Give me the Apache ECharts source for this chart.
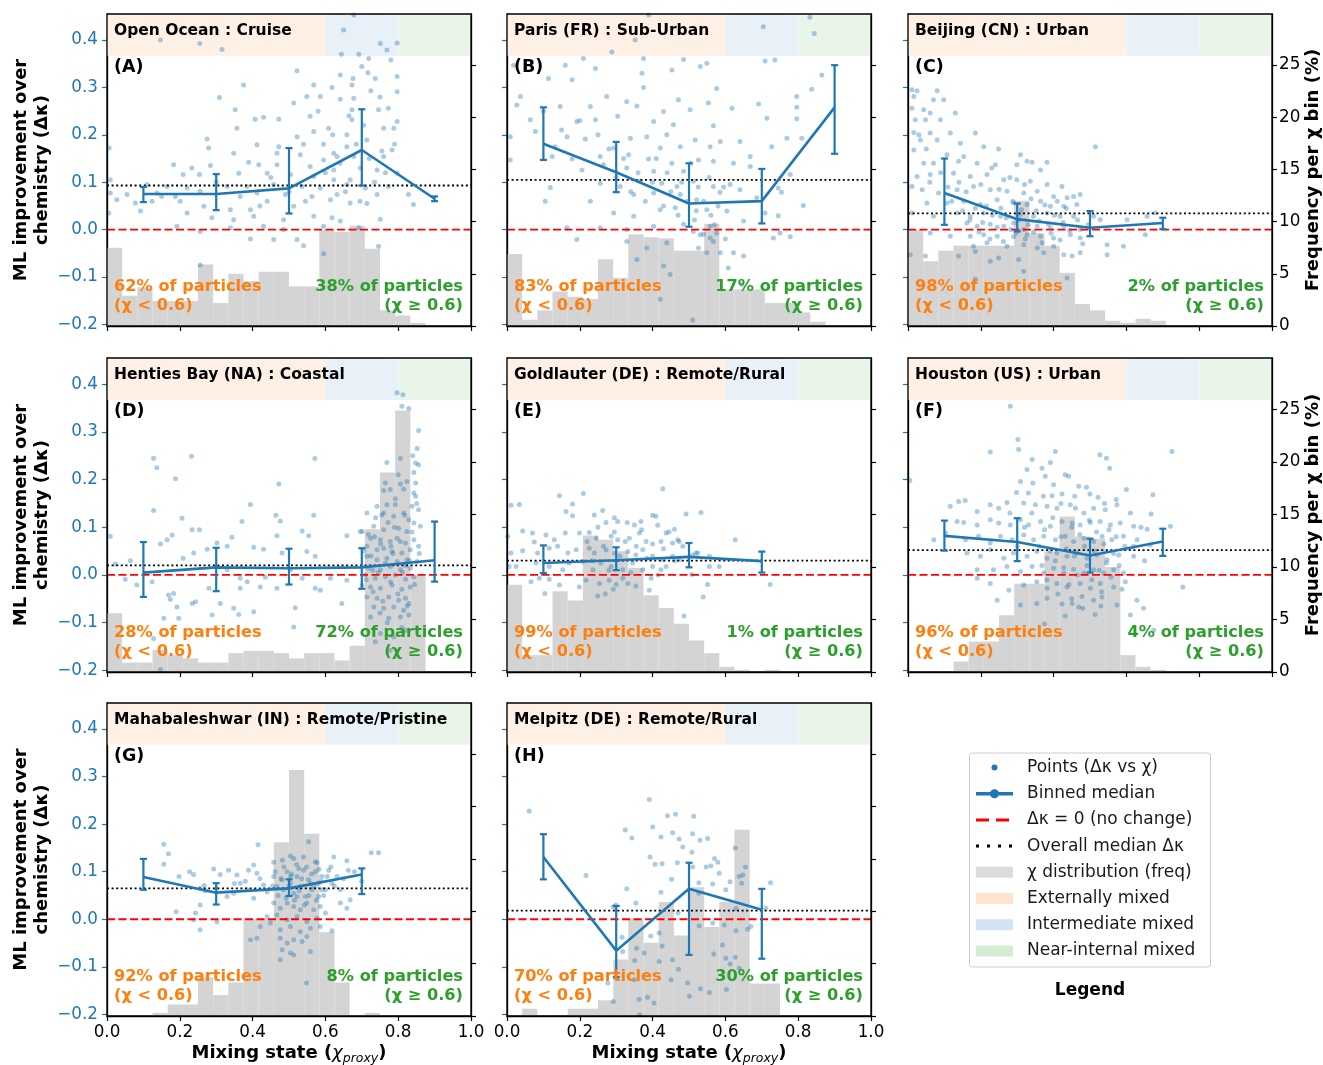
<!DOCTYPE html>
<html><head><meta charset="utf-8">
<script src="https://cdn.jsdelivr.net/npm/echarts@6/dist/echarts.min.js"></script>
<style>html,body{margin:0;padding:0;background:#fff}#c{width:1323px;height:1065px}</style>
</head><body><div id="c"></div><script>
// ---------------- DATA ----------------
const siteNames = ['Open Ocean : Cruise','Paris (FR) : Sub-Urban','Beijing (CN) : Urban','Henties Bay (NA) : Coastal','Goldlauter (DE) : Remote/Rural','Houston (US) : Urban','Mahabaleshwar (IN) : Remote/Pristine','Melpitz (DE) : Remote/Rural'];
const panelLetters = ['(A)','(B)','(C)','(D)','(E)','(F)','(G)','(H)'];
const pctLow = [62,83,98,28,99,96,92,70];
const pctHigh = [38,17,2,72,1,4,8,30];
const overallMedian = [0.093,0.105,0.034,0.020,0.030,0.052,0.065,0.018];
const binCenters = [0.1,0.3,0.5,0.7,0.9];
const xTicks = [0,0.2,0.4,0.6,0.8,1.0];
const yTicks = [-0.2,-0.1,0,0.1,0.2,0.3,0.4];
const freqTicks = [0,5,10,15,20,25];
const bandEdges = [0,0.6,0.8,1.0];

const medA=[0.075,0.075,0.087,0.168,0.065], loA=[0.058,0.041,0.034,0.093,0.060], hiA=[0.090,0.117,0.172,0.254,0.070];
const medB=[0.181,0.121,0.055,0.060,0.258], loB=[0.147,0.079,0.006,0.013,0.160], hiB=[0.258,0.185,0.140,0.128,0.347];
const medC=[0.077,0.022,0.004,0.014], loC=[0.010,-0.004,-0.014,0.001], hiC=[0.150,0.055,0.039,0.025];
const medD=[0.005,0.016,0.014,0.016,0.031], loD=[-0.046,-0.034,-0.020,-0.029,-0.014], hiD=[0.069,0.057,0.055,0.056,0.112];
const medE=[0.025,0.031,0.038,0.029], loE=[0.004,0.010,0.016,0.005], hiE=[0.062,0.058,0.067,0.049];
const medF=[0.082,0.069,0.041,0.070], loF=[0.051,0.029,0.005,0.040], hiF=[0.114,0.119,0.076,0.097];
const medG=[0.089,0.056,0.065,0.094], loG=[0.062,0.031,0.049,0.053], hiG=[0.127,0.076,0.084,0.107];
const medH=[0.131,-0.066,0.064,0.020], loH=[0.084,-0.122,-0.075,-0.083], hiH=[0.179,0.028,0.119,0.064];

// histogram frequency (%) per chi bin of width 1/24 starting at 0
const histA=[7.5,2.9,3.7,2.4,2.4,2.4,5.9,2.2,5.0,4.3,5.2,5.2,3.8,3.8,9.2,9.0,9.6,7.4,1.5,1.0,0.3];
const histB=[6.9,0.6,1.5,3.3,2.8,2.6,6.4,4.6,8.8,8.5,8.4,7.2,7.2,9.8,3.5,3.5,3.5,2.2,2.2,1.3,0.4];
const histC=[9.2,6.2,7.2,7.7,7.7,7.7,7.7,12.0,8.9,7.7,5.1,2.1,1.5,0.5,0.3,0.7,0.5];
const histD=[5.6,0.9,0.9,2.1,1.6,1.3,0.9,0.9,1.8,2.0,2.0,1.8,1.3,1.8,1.8,1.1,2.5,13.6,19.0,24.9,9.2];
const histE=[8.3,1.6,1.6,7.7,6.8,13.0,12.6,11.5,9.9,7.3,6.1,4.6,3.0,1.8,0.5,0.2,0,0.2];
const histF=[0,0,0,1.0,2.9,2.9,5.4,8.4,8.4,11.5,14.8,12.9,12.7,10.0,1.6,0.5,0.2];
const histG=[0,0,0,0.3,1.1,1.1,3.7,2.0,3.2,9.3,9.3,16.6,23.5,17.4,8.0,3.2,0.1,0.3];
const histH=[0,0.7,0,0,0.7,0.7,1.5,5.4,9.3,7.0,10.9,7.7,12.3,8.5,10.9,17.8,3.1,3.1];

const ptsA=[[0.678,0.453],[0.650,0.421],[0.147,0.400],[0.255,0.393],[0.316,0.380],[0.751,0.393],[0.797,0.394],[0.769,0.379],[0.644,0.370],[0.692,0.370],[0.719,0.361],[0.780,0.358],[0.700,0.344],[0.717,0.331],[0.522,0.335],[0.641,0.326],[0.676,0.319],[0.737,0.319],[0.797,0.323],[0.375,0.305],[0.568,0.305],[0.618,0.300],[0.673,0.305],[0.725,0.293],[0.797,0.291],[0.549,0.281],[0.586,0.281],[0.641,0.275],[0.309,0.279],[0.678,0.277],[0.513,0.267],[0.746,0.253],[0.773,0.256],[0.673,0.253],[0.352,0.253],[0.430,0.237],[0.407,0.233],[0.472,0.233],[0.558,0.239],[0.797,0.228],[0.673,0.232],[0.609,0.214],[0.357,0.214],[0.760,0.214],[0.788,0.214],[0.568,0.207],[0.659,0.200],[0.522,0.196],[0.275,0.191],[0.714,0.189],[0.412,0.179],[0.472,0.175],[0.595,0.180],[0.783,0.168],[0.279,0.172],[0.467,0.161],[0.348,0.161],[0.659,0.175],[0.623,0.161],[0.531,0.158],[0.755,0.166],[0.678,0.154],[0.389,0.142],[0.595,0.147],[0.632,0.154],[0.760,0.154],[0.183,0.137],[0.284,0.135],[0.417,0.137],[0.467,0.137],[0.558,0.133],[0.623,0.126],[0.696,0.130],[0.742,0.126],[0.233,0.130],[0.209,0.116],[0.254,0.116],[0.362,0.119],[0.440,0.119],[0.504,0.116],[0.568,0.112],[0.668,0.105],[0.623,0.105],[0.797,0.119],[0.110,0.095],[0.165,0.091],[0.220,0.088],[0.330,0.091],[0.385,0.091],[0.458,0.095],[0.536,0.091],[0.586,0.088],[0.659,0.095],[0.710,0.088],[0.773,0.091],[0.009,0.077],[0.055,0.074],[0.137,0.077],[0.188,0.070],[0.256,0.081],[0.366,0.070],[0.412,0.077],[0.490,0.074],[0.563,0.070],[0.614,0.063],[0.632,0.074],[0.742,0.074],[0.828,0.074],[0.027,0.063],[0.078,0.056],[0.124,0.060],[0.201,0.060],[0.266,0.049],[0.339,0.042],[0.394,0.042],[0.440,0.060],[0.513,0.049],[0.545,0.060],[0.668,0.056],[0.714,0.055],[0.842,0.053],[0.005,0.035],[0.092,0.039],[0.220,0.035],[0.288,0.025],[0.348,0.021],[0.403,0.028],[0.485,0.021],[0.568,0.028],[0.618,0.025],[0.641,0.018],[0.751,0.022],[0.192,0.007],[0.256,-0.004],[0.339,0.004],[0.430,0.007],[0.485,0.000],[0.595,0.007],[0.692,0.004],[0.394,-0.020],[0.458,-0.021],[0.522,-0.021],[0.540,-0.034],[0.595,-0.051],[0.746,-0.035],[0.256,-0.075],[0.009,0.105],[0.006,0.172],
[0.600,0.120],[0.620,0.200],[0.640,0.140],[0.655,0.080],[0.665,0.240],[0.685,0.180],[0.695,0.060],[0.705,0.220],[0.720,0.150],[0.735,0.100],[0.750,0.280],[0.765,0.120],[0.790,0.180],[0.580,0.250],[0.540,0.180],[0.500,0.080],[0.450,0.110],[0.420,0.050],[0.300,0.100],[0.150,0.070]];
const ptsB=[[0.389,0.453],[0.704,0.428],[0.832,0.448],[0.844,0.414],[0.352,0.400],[0.288,0.375],[0.709,0.356],[0.736,0.358],[0.485,0.359],[0.375,0.361],[0.210,0.361],[0.549,0.351],[0.018,0.347],[0.160,0.347],[0.114,0.319],[0.179,0.316],[0.243,0.340],[0.371,0.330],[0.453,0.337],[0.531,0.344],[0.865,0.326],[0.576,0.298],[0.375,0.300],[0.037,0.281],[0.274,0.281],[0.329,0.270],[0.471,0.274],[0.553,0.267],[0.796,0.281],[0.837,0.296],[0.027,0.263],[0.146,0.260],[0.229,0.260],[0.357,0.261],[0.430,0.249],[0.503,0.253],[0.618,0.256],[0.691,0.265],[0.796,0.258],[0.064,0.232],[0.192,0.228],[0.243,0.232],[0.304,0.239],[0.403,0.228],[0.457,0.221],[0.567,0.219],[0.714,0.235],[0.796,0.234],[0.009,0.196],[0.078,0.207],[0.165,0.196],[0.215,0.191],[0.339,0.193],[0.384,0.196],[0.439,0.200],[0.517,0.189],[0.586,0.186],[0.640,0.186],[0.769,0.193],[0.810,0.193],[0.727,0.175],[0.132,0.175],[0.293,0.172],[0.421,0.172],[0.476,0.175],[0.558,0.175],[0.124,0.154],[0.179,0.149],[0.256,0.154],[0.334,0.158],[0.389,0.149],[0.453,0.140],[0.526,0.147],[0.567,0.144],[0.668,0.154],[0.009,0.147],[0.206,0.126],[0.265,0.137],[0.329,0.130],[0.403,0.123],[0.485,0.123],[0.622,0.140],[0.668,0.133],[0.778,0.116],[0.256,0.098],[0.311,0.091],[0.366,0.102],[0.425,0.098],[0.467,0.091],[0.512,0.102],[0.567,0.091],[0.613,0.095],[0.745,0.088],[0.119,0.089],[0.105,0.060],[0.229,0.060],[0.348,0.074],[0.403,0.077],[0.476,0.074],[0.521,0.063],[0.585,0.079],[0.640,0.084],[0.686,0.067],[0.754,0.079],[0.814,0.051],[0.293,0.035],[0.348,0.028],[0.421,0.042],[0.462,0.046],[0.549,0.042],[0.604,0.039],[0.650,0.018],[0.709,0.035],[0.745,0.029],[0.165,0.004],[0.256,0.004],[0.329,0.000],[0.403,0.007],[0.485,0.011],[0.512,-0.004],[0.531,-0.011],[0.558,0.007],[0.576,-0.007],[0.567,-0.025],[0.750,-0.007],[0.778,-0.015],[0.192,-0.021],[0.329,-0.025],[0.384,-0.039],[0.439,-0.028],[0.526,-0.039],[0.549,-0.049],[0.586,-0.049],[0.622,-0.049],[0.650,-0.056],[0.357,-0.063],[0.430,-0.077],[0.448,-0.095],[0.608,-0.081],[0.645,-0.116],[0.421,-0.147],[0.510,-0.191],[0.732,-0.018],[0.558,-0.018],
[0.300,0.110],[0.320,0.150],[0.340,0.080],[0.360,0.120],[0.380,0.060],[0.400,0.100],[0.410,0.150],[0.430,0.050],[0.440,0.120],[0.450,0.080],[0.470,0.030],[0.480,0.100],[0.495,0.060],[0.505,0.140],[0.515,0.020],[0.525,0.090],[0.540,0.060],[0.555,0.110],[0.570,0.010],[0.580,0.050],[0.595,0.090],[0.540,-0.010],[0.560,0.030],[0.520,0.040],[0.600,-0.020],[0.280,0.170],[0.250,0.200],[0.200,0.230],[0.150,0.210],[0.100,0.250]];
const ptsC=[[0.011,0.295],[0.025,0.293],[0.080,0.293],[0.016,0.281],[0.043,0.253],[0.011,0.256],[0.070,0.274],[0.098,0.274],[0.020,0.232],[0.048,0.232],[0.089,0.232],[0.130,0.246],[0.061,0.246],[0.016,0.205],[0.061,0.204],[0.116,0.204],[0.185,0.204],[0.034,0.189],[0.080,0.189],[0.144,0.182],[0.208,0.175],[0.249,0.170],[0.016,0.168],[0.107,0.158],[0.153,0.154],[0.309,0.158],[0.327,0.144],[0.341,0.142],[0.382,0.142],[0.515,0.175],[0.043,0.140],[0.070,0.140],[0.139,0.144],[0.190,0.140],[0.240,0.137],[0.299,0.137],[0.364,0.126],[0.025,0.112],[0.061,0.116],[0.125,0.119],[0.171,0.112],[0.217,0.116],[0.263,0.105],[0.299,0.105],[0.336,0.102],[0.382,0.095],[0.423,0.091],[0.011,0.091],[0.039,0.084],[0.084,0.077],[0.135,0.084],[0.180,0.091],[0.226,0.084],[0.272,0.081],[0.318,0.077],[0.355,0.081],[0.400,0.070],[0.437,0.067],[0.473,0.074],[0.052,0.056],[0.107,0.056],[0.153,0.060],[0.199,0.053],[0.245,0.063],[0.290,0.056],[0.327,0.053],[0.364,0.060],[0.391,0.049],[0.428,0.049],[0.464,0.053],[0.011,0.035],[0.070,0.028],[0.135,0.035],[0.171,0.028],[0.208,0.035],[0.254,0.028],[0.309,0.032],[0.345,0.028],[0.382,0.035],[0.418,0.028],[0.455,0.028],[0.510,0.028],[0.528,0.021],[0.657,0.028],[0.679,0.035],[0.602,0.021],[0.162,0.014],[0.190,0.007],[0.226,0.011],[0.263,0.007],[0.290,0.014],[0.318,0.000],[0.355,0.007],[0.391,0.004],[0.428,0.007],[0.473,0.000],[0.061,-0.007],[0.116,-0.014],[0.171,-0.014],[0.208,-0.011],[0.245,-0.014],[0.290,-0.015],[0.327,-0.011],[0.364,-0.014],[0.400,-0.018],[0.446,-0.011],[0.473,-0.018],[0.180,-0.035],[0.217,-0.028],[0.272,-0.035],[0.318,-0.032],[0.355,-0.039],[0.400,-0.035],[0.428,-0.053],[0.451,-0.056],[0.473,-0.049],[0.547,-0.032],[0.592,-0.035],[0.547,-0.053],[0.652,-0.011],[0.139,-0.056],[0.185,-0.046],[0.226,-0.067],[0.249,-0.060],[0.304,-0.063],[0.318,-0.088],[0.373,-0.049],[0.006,-0.053],[0.048,-0.056],[0.185,-0.105],[0.437,-0.102],
[0.150,0.040],[0.170,0.020],[0.185,0.045],[0.195,-0.005],[0.205,0.015],[0.215,0.050],[0.225,-0.020],[0.232,0.030],[0.245,0.005],[0.255,0.045],[0.262,-0.025],[0.270,0.025],[0.282,0.000],[0.288,0.060],[0.297,-0.008],[0.305,0.020],[0.312,0.042],[0.322,-0.020],[0.330,0.010],[0.338,0.065],[0.345,-0.005],[0.352,0.040],[0.360,0.018],[0.368,-0.028],[0.376,0.052],[0.385,0.012],[0.393,-0.008],[0.402,0.030],[0.410,0.060],[0.418,-0.022],[0.426,0.015],[0.435,0.045],[0.444,-0.002],[0.455,0.070],[0.466,0.020],[0.480,-0.030],[0.495,0.010],[0.030,0.200],[0.050,0.170],[0.090,0.120],[0.110,0.090],[0.060,0.100],[0.120,0.060],[0.140,0.100],[0.160,0.080],[0.200,0.095],[0.250,0.085],[0.280,0.110],[0.320,0.095],[0.230,0.130]];
const ptsD=[[0.128,0.245],[0.137,0.225],[0.232,0.249],[0.188,0.202],[0.472,0.191],[0.571,0.244],[0.568,0.125],[0.394,0.148],[0.234,0.095],[0.254,0.095],[0.206,0.119],[0.128,0.135],[0.464,0.125],[0.476,0.113],[0.371,0.112],[0.536,0.092],[0.554,0.082],[0.467,0.082],[0.343,0.079],[0.179,0.084],[0.165,0.074],[0.147,0.065],[0.209,0.035],[0.238,0.046],[0.275,0.054],[0.302,0.067],[0.330,0.060],[0.403,0.058],[0.430,0.054],[0.481,0.046],[0.549,0.049],[0.572,0.039],[0.009,0.081],[0.023,0.023],[0.064,0.030],[0.082,-0.021],[0.050,-0.009],[0.124,-0.014],[0.169,-0.042],[0.183,-0.039],[0.192,-0.067],[0.174,-0.051],[0.156,-0.091],[0.197,-0.091],[0.234,-0.060],[0.243,-0.056],[0.280,-0.028],[0.289,-0.084],[0.311,-0.060],[0.348,-0.070],[0.362,-0.083],[0.366,-0.028],[0.385,-0.014],[0.403,-0.077],[0.421,-0.025],[0.435,-0.005],[0.467,-0.028],[0.517,-0.069],[0.513,-0.109],[0.536,-0.007],[0.572,-0.028],[0.586,-0.032],[0.614,-0.007],[0.659,-0.011],[0.645,-0.060],[0.128,-0.133],[0.147,-0.198],[0.366,-0.007],[0.330,0.011],[0.504,0.011],[0.659,0.082],[0.696,0.091],[0.701,-0.021],
[0.797,0.382],[0.813,0.378],[0.810,0.354],[0.829,0.349],[0.856,0.303],[0.852,0.265],[0.848,0.235],[0.856,0.231],[0.769,0.236],[0.806,0.244],[0.843,0.215],[0.765,0.193],[0.806,0.191],[0.824,0.196],[0.848,0.193],[0.843,0.172],[0.760,0.177],[0.778,0.179],[0.848,0.165],[0.742,0.144],[0.769,0.147],[0.792,0.148],[0.815,0.130],[0.838,0.144],[0.856,0.137],[0.714,0.130],[0.755,0.126],[0.788,0.123],[0.829,0.116],[0.843,0.109],[0.861,0.102],[0.733,0.102],[0.760,0.095],[0.801,0.098],[0.824,0.091],[0.701,0.091],[0.724,0.077],[0.751,0.074],[0.778,0.070],[0.797,0.077],[0.820,0.067],[0.843,0.074],[0.714,0.060],[0.742,0.053],[0.760,0.056],[0.783,0.049],[0.810,0.046],[0.833,0.053],[0.856,0.060],[0.714,0.039],[0.742,0.032],[0.769,0.035],[0.797,0.028],[0.824,0.032],[0.852,0.028],[0.719,0.014],[0.751,0.011],[0.778,0.018],[0.806,0.011],[0.833,0.014],[0.710,0.000],[0.737,-0.007],[0.765,-0.004],[0.792,0.000],[0.820,-0.009],[0.843,-0.004],[0.724,-0.025],[0.751,-0.028],[0.783,-0.021],[0.810,-0.030],[0.833,-0.025],[0.714,-0.046],[0.742,-0.049],[0.774,-0.046],[0.801,-0.053],[0.820,-0.049],[0.829,-0.060],[0.733,-0.067],[0.760,-0.070],[0.788,-0.067],[0.815,-0.074],[0.829,-0.084],[0.724,-0.088],[0.774,-0.091],[0.806,-0.088],[0.751,-0.123],[0.788,-0.130],[0.820,-0.116],[0.737,-0.140],[0.778,-0.158],
[0.705,0.050],[0.712,-0.010],[0.718,0.085],[0.725,0.040],[0.731,-0.035],[0.738,0.120],[0.745,0.005],[0.752,0.065],[0.758,-0.055],[0.765,0.025],[0.772,0.110],[0.779,-0.015],[0.786,0.045],[0.792,0.160],[0.799,-0.040],[0.806,0.070],[0.812,0.005],[0.818,0.125],[0.825,-0.065],[0.831,0.030],[0.838,0.090],[0.845,-0.020],[0.851,0.150],[0.858,0.045],[0.735,0.080],[0.760,0.130],[0.790,0.100],[0.815,0.180],[0.840,0.250],[0.800,0.210],[0.780,0.060],[0.770,-0.100],[0.810,-0.110],[0.750,-0.080],[0.820,0.020],[0.730,0.010]];
const ptsE=[[0.428,0.181],[0.210,0.171],[0.144,0.166],[0.180,0.149],[0.034,0.148],[0.011,0.146],[0.180,0.124],[0.162,0.133],[0.240,0.126],[0.263,0.135],[0.295,0.120],[0.304,0.112],[0.272,0.110],[0.400,0.125],[0.409,0.123],[0.492,0.128],[0.533,0.131],[0.350,0.105],[0.368,0.112],[0.414,0.104],[0.460,0.096],[0.473,0.070],[0.627,0.074],[0.043,0.092],[0.070,0.088],[0.075,0.069],[0.107,0.084],[0.130,0.074],[0.160,0.088],[0.199,0.088],[0.226,0.089],[0.245,0.077],[0.286,0.081],[0.304,0.074],[0.336,0.077],[0.364,0.088],[0.382,0.070],[0.423,0.070],[0.437,0.088],[0.455,0.067],[0.469,0.074],[0.483,0.060],[0.519,0.046],[0.556,0.039],[0.583,0.018],[0.043,0.051],[0.011,0.046],[0.084,0.046],[0.116,0.056],[0.139,0.060],[0.167,0.046],[0.190,0.053],[0.226,0.056],[0.240,0.046],[0.272,0.053],[0.295,0.046],[0.332,0.049],[0.354,0.042],[0.373,0.053],[0.400,0.039],[0.428,0.032],[0.455,0.039],[0.473,0.032],[0.025,0.018],[0.080,0.025],[0.116,0.018],[0.153,0.011],[0.171,0.025],[0.208,0.028],[0.236,0.011],[0.258,0.025],[0.286,0.018],[0.318,0.011],[0.345,0.025],[0.373,0.011],[0.400,0.018],[0.423,0.011],[0.437,0.018],[0.507,0.001],[0.556,0.018],[0.066,-0.014],[0.089,-0.007],[0.116,-0.009],[0.144,-0.021],[0.199,-0.025],[0.217,-0.011],[0.254,-0.018],[0.281,-0.011],[0.318,-0.007],[0.332,-0.018],[0.354,-0.023],[0.396,-0.007],[0.391,-0.032],[0.249,-0.044],[0.292,-0.030],[0.104,-0.039],[0.551,-0.020],[0.539,-0.046],[0.723,-0.020],[0.486,-0.086],[0.006,0.018],[0.002,0.081],[0.510,0.042],[0.524,0.046],
[0.220,0.070],[0.235,0.030],[0.250,0.100],[0.265,0.060],[0.280,0.010],[0.295,0.090],[0.310,0.040],[0.325,0.070],[0.340,0.005],[0.355,0.060],[0.370,0.095],[0.385,0.035],[0.400,0.065],[0.415,0.000],[0.430,0.055],[0.445,0.090],[0.460,0.030],[0.300,-0.020],[0.330,0.110],[0.270,-0.040]];
const ptsF=[[0.281,0.354],[0.302,0.284],[0.304,0.263],[0.226,0.258],[0.405,0.259],[0.725,0.259],[0.527,0.252],[0.545,0.245],[0.341,0.242],[0.391,0.236],[0.554,0.224],[0.368,0.224],[0.327,0.221],[0.432,0.210],[0.441,0.207],[0.005,0.198],[0.309,0.196],[0.343,0.193],[0.377,0.207],[0.400,0.189],[0.469,0.186],[0.490,0.184],[0.600,0.179],[0.298,0.173],[0.331,0.172],[0.372,0.165],[0.396,0.166],[0.423,0.170],[0.458,0.165],[0.522,0.163],[0.572,0.158],[0.673,0.168],[0.116,0.144],[0.139,0.154],[0.157,0.156],[0.190,0.133],[0.226,0.147],[0.249,0.140],[0.272,0.152],[0.318,0.151],[0.350,0.147],[0.382,0.144],[0.409,0.140],[0.446,0.147],[0.483,0.130],[0.510,0.140],[0.542,0.137],[0.574,0.147],[0.611,0.130],[0.668,0.128],[0.135,0.112],[0.153,0.110],[0.190,0.105],[0.226,0.116],[0.249,0.109],[0.281,0.105],[0.309,0.116],[0.331,0.105],[0.364,0.112],[0.391,0.102],[0.423,0.112],[0.451,0.109],[0.473,0.105],[0.501,0.110],[0.528,0.112],[0.556,0.105],[0.583,0.109],[0.620,0.102],[0.657,0.096],[0.721,0.102],[0.071,0.074],[0.103,0.088],[0.158,0.074],[0.194,0.081],[0.226,0.067],[0.254,0.081],[0.286,0.074],[0.318,0.084],[0.345,0.074],[0.373,0.081],[0.405,0.074],[0.432,0.081],[0.455,0.070],[0.483,0.077],[0.510,0.070],[0.533,0.081],[0.560,0.074],[0.592,0.081],[0.629,0.074],[0.665,0.063],[0.162,0.046],[0.199,0.039],[0.226,0.053],[0.263,0.035],[0.290,0.046],[0.327,0.039],[0.354,0.049],[0.382,0.035],[0.409,0.046],[0.437,0.039],[0.464,0.046],[0.492,0.035],[0.519,0.042],[0.547,0.032],[0.579,0.042],[0.620,0.039],[0.190,0.011],[0.235,0.011],[0.272,0.018],[0.309,0.007],[0.341,0.018],[0.373,0.004],[0.400,0.014],[0.428,0.004],[0.455,0.012],[0.483,0.004],[0.510,0.011],[0.538,0.004],[0.565,0.011],[0.592,0.004],[0.190,-0.007],[0.226,-0.018],[0.277,-0.032],[0.318,-0.021],[0.354,-0.014],[0.382,-0.028],[0.409,-0.018],[0.437,-0.025],[0.473,-0.018],[0.501,-0.028],[0.528,-0.018],[0.565,-0.025],[0.597,-0.014],[0.245,-0.053],[0.309,-0.063],[0.354,-0.060],[0.382,-0.049],[0.423,-0.061],[0.451,-0.060],[0.469,-0.067],[0.510,-0.053],[0.533,-0.046],[0.574,-0.063],[0.611,-0.084],[0.432,-0.086],[0.514,-0.083],[0.647,-0.070],[0.755,-0.025],[0.375,-0.103],[0.675,-0.116],[0.629,-0.053],
[0.360,0.060],[0.368,0.020],[0.375,0.095],[0.382,-0.010],[0.390,0.050],[0.398,0.120],[0.405,0.030],[0.412,-0.040],[0.420,0.080],[0.428,0.015],[0.435,0.055],[0.442,-0.020],[0.450,0.100],[0.457,0.040],[0.465,0.000],[0.472,0.085],[0.478,-0.045],[0.485,0.060],[0.492,0.020],[0.498,0.115],[0.505,-0.010],[0.512,0.050],[0.518,0.090],[0.525,0.010],[0.532,-0.035],[0.538,0.065],[0.545,0.025],[0.552,0.095],[0.558,-0.005],[0.565,0.045],[0.572,0.080],[0.580,0.020],[0.588,-0.030],[0.596,0.060],[0.340,0.130],[0.320,0.100],[0.300,0.060],[0.280,0.130],[0.420,0.150],[0.460,0.140],[0.500,0.170],[0.540,0.150],[0.620,0.060],[0.640,0.100],[0.650,0.030],[0.480,-0.070],[0.530,-0.065],[0.450,-0.050]];
const ptsG=[[0.156,0.158],[0.169,0.138],[0.156,0.116],[0.415,0.157],[0.554,0.163],[0.726,0.140],[0.746,0.140],[0.198,0.090],[0.227,0.100],[0.238,0.094],[0.255,0.065],[0.267,0.071],[0.293,0.106],[0.311,0.094],[0.334,0.103],[0.357,0.093],[0.389,0.103],[0.403,0.114],[0.412,0.097],[0.458,0.120],[0.482,0.124],[0.504,0.133],[0.513,0.128],[0.540,0.131],[0.577,0.119],[0.623,0.131],[0.659,0.123],[0.256,0.030],[0.243,0.013],[0.238,-0.001],[0.256,-0.022],[0.190,0.016],[0.302,-0.005],[0.366,0.076],[0.385,0.062],[0.403,0.044],[0.348,0.055],[0.330,0.048],[0.430,0.072],[0.440,0.058],[0.458,0.090],[0.467,0.069],[0.481,0.083],[0.495,0.100],[0.504,0.076],[0.513,0.055],[0.522,0.090],[0.531,0.069],[0.540,0.103],[0.545,0.048],[0.554,0.083],[0.563,0.062],[0.572,0.100],[0.581,0.076],[0.590,0.090],[0.600,0.062],[0.609,0.103],[0.618,0.076],[0.632,0.090],[0.641,0.062],[0.663,0.103],[0.668,0.041],[0.659,0.023],[0.641,0.034],[0.458,0.034],[0.476,0.023],[0.495,0.034],[0.513,0.027],[0.531,0.020],[0.549,0.034],[0.568,0.020],[0.586,0.027],[0.440,0.006],[0.467,0.009],[0.495,-0.001],[0.522,0.006],[0.549,-0.005],[0.577,0.002],[0.421,-0.015],[0.449,-0.008],[0.476,-0.022],[0.504,-0.015],[0.531,-0.026],[0.559,-0.019],[0.586,-0.015],[0.394,-0.043],[0.412,-0.040],[0.476,-0.040],[0.495,-0.050],[0.513,-0.043],[0.536,-0.047],[0.549,-0.036],[0.481,-0.064],[0.504,-0.071],[0.513,-0.075],[0.559,-0.068],[0.476,-0.085],[0.548,-0.134],[0.618,-0.024],[0.600,0.013],[0.485,0.062],[0.522,0.048],[0.581,0.048],[0.559,0.076],[0.504,0.090],[0.527,0.107],[0.572,0.121],[0.590,0.062],
[0.455,0.070],[0.462,0.100],[0.470,0.050],[0.478,0.085],[0.486,0.110],[0.492,0.045],[0.500,0.070],[0.507,0.095],[0.515,0.040],[0.521,0.115],[0.528,0.060],[0.535,0.085],[0.542,0.030],[0.548,0.110],[0.555,0.050],[0.562,0.095],[0.568,0.070],[0.575,0.040],[0.582,0.105],[0.588,0.080],[0.595,0.050],[0.605,0.090],[0.615,0.110],[0.625,0.070],[0.650,0.085],[0.680,0.100],[0.700,0.080],[0.420,0.085],[0.380,0.080],[0.350,0.075],[0.300,0.065],[0.270,0.060]];
const ptsH=[[0.061,0.228],[0.391,0.252],[0.441,0.218],[0.463,0.221],[0.513,0.217],[0.400,0.194],[0.325,0.188],[0.343,0.171],[0.423,0.173],[0.455,0.182],[0.473,0.169],[0.510,0.180],[0.530,0.166],[0.551,0.170],[0.483,0.152],[0.508,0.141],[0.393,0.131],[0.407,0.116],[0.426,0.117],[0.468,0.119],[0.510,0.110],[0.547,0.110],[0.570,0.128],[0.579,0.120],[0.560,0.112],[0.583,0.097],[0.627,0.150],[0.655,0.110],[0.638,0.090],[0.645,0.076],[0.648,0.093],[0.217,0.092],[0.452,0.084],[0.527,0.077],[0.565,0.074],[0.613,0.079],[0.601,0.062],[0.329,0.064],[0.423,0.057],[0.527,0.055],[0.629,0.023],[0.711,0.023],[0.724,0.077],[0.292,0.026],[0.354,0.034],[0.470,0.013],[0.395,-0.035],[0.418,-0.029],[0.316,-0.038],[0.426,-0.056],[0.356,-0.061],[0.377,-0.071],[0.418,-0.089],[0.455,-0.085],[0.471,-0.105],[0.528,-0.014],[0.565,-0.008],[0.597,-0.012],[0.629,-0.024],[0.661,-0.021],[0.592,-0.054],[0.568,-0.073],[0.601,-0.082],[0.627,-0.080],[0.638,-0.103],[0.613,-0.094],[0.670,-0.015],[0.350,-0.127],[0.451,-0.127],[0.496,-0.134],[0.531,-0.146],[0.556,-0.154],[0.603,-0.148],[0.501,-0.162],[0.386,-0.164],[0.363,-0.168],[0.404,-0.176],[0.292,-0.173],[0.277,-0.134],[0.351,-0.087],[0.318,-0.068],[0.364,-0.201],[0.299,0.030]];

const ptsAll=[ptsA,ptsB,ptsC,ptsD,ptsE,ptsF,ptsG,ptsH];
const histAll=[histA,histB,histC,histD,histE,histF,histG,histH];
const medAll=[medA,medB,medC,medD,medE,medF,medG,medH];
const loAll=[loA,loB,loC,loD,loE,loF,loG,loH];
const hiAll=[hiA,hiB,hiC,hiD,hiE,hiF,hiG,hiH];

// ---------------- STYLE / LAYOUT ----------------
const FONT='"DejaVu Sans", sans-serif';
const BLUE='#1f77b4', ORANGE='#ff7f0e', GREEN='#2ca02c', RED='#ff0000';
const BAND_COLORS=['#fef0e4','#e9f1f8','#eaf5ea'];
const LEG_COLORS=['#ffe3cc','#d3e3f1','#d4ebd4'];
const HIST_COLOR='#d4d4d4';
const Y_MIN=-0.2035, Y_MAX=0.455, F_MAX=29.9, BAND_BOTTOM=0.367, BIN_W=1/24;
const colLeft=[107,507,908], rowTop=[14,358,703], rowH=[312,314,313], PW=364;

const grids=[], xAxes=[], yAxes=[], series=[], graphics=[];
const fmt=v=>{const s=Math.abs(v).toFixed(1);return v<-1e-9?'\u2212'+s:s;};

for(let i=0;i<8;i++){
  const row=Math.floor(i/3), col=i%3;
  const L=colLeft[col], T=rowTop[row], H=rowH[row], B=T+H, R=L+PW;
  grids.push({left:L, top:T, width:PW, height:H, containLabel:false});
  xAxes.push({gridIndex:i, type:'value', min:0, max:1, interval:0.2,
    axisLine:{show:true,onZero:false,lineStyle:{color:'#000',width:1.3}},
    axisTick:{show:true,length:5,customValues:xTicks,lineStyle:{color:'#000',width:1.2}},
    axisLabel:{show:row===2,customValues:xTicks,margin:8,fontSize:16.8,fontFamily:FONT,color:'#000',formatter:v=>v.toFixed(1)},
    splitLine:{show:false}});
  yAxes.push({gridIndex:i, type:'value', position:'left', min:Y_MIN, max:Y_MAX,
    axisLine:{show:true,onZero:false,lineStyle:{color:'#000',width:1.3}},
    axisTick:{show:true,length:5,customValues:yTicks,lineStyle:{color:BLUE,width:1.2}},
    axisLabel:{show:col===0,customValues:yTicks,margin:9,fontSize:16.8,fontFamily:FONT,color:BLUE,formatter:fmt},
    splitLine:{show:false}});
  yAxes.push({gridIndex:i, type:'value', position:'right', min:0, max:F_MAX,
    axisLine:{show:true,onZero:false,lineStyle:{color:'#000',width:1.3}},
    axisTick:{show:true,length:5,customValues:freqTicks,lineStyle:{color:'#000',width:1.2}},
    axisLabel:{show:col===2,customValues:freqTicks,margin:7,fontSize:16.8,fontFamily:FONT,color:'#000',formatter:v=>String(v)},
    splitLine:{show:false}});
  const yl=2*i, yr=2*i+1;
  series.push({type:'custom', xAxisIndex:i, yAxisIndex:yl, z:1, silent:true,
    data:bandEdges.slice(0,-1).map((e,k)=>[e,bandEdges[k+1],k]),
    encode:{x:[0,1]},
    renderItem:(p,api)=>{const p0=api.coord([api.value(0),BAND_BOTTOM]);const p1=api.coord([api.value(1),Y_MAX]);
      return {type:'rect',shape:{x:p0[0],y:p1[1],width:p1[0]-p0[0],height:p0[1]-p1[1]},style:{fill:BAND_COLORS[api.value(2)]}};}});
  series.push({type:'custom', xAxisIndex:i, yAxisIndex:yr, z:2, silent:true,
    data:histAll[i].map((h,k)=>[k*BIN_W,(k+1)*BIN_W,h]).filter(d=>d[2]>0),
    encode:{x:[0,1],y:2},
    renderItem:(p,api)=>{const p0=api.coord([api.value(0),0]);const p1=api.coord([api.value(1),api.value(2)]);
      return {type:'rect',shape:{x:p0[0],y:p1[1],width:p1[0]-p0[0],height:p0[1]-p1[1]},style:{fill:HIST_COLOR}};}});
  series.push({type:'scatter', xAxisIndex:i, yAxisIndex:yl, z:3, silent:true, clip:true,
    symbolSize:5, itemStyle:{color:BLUE,opacity:0.38}, data:ptsAll[i]});
  series.push({type:'line', xAxisIndex:i, yAxisIndex:yl, z:4, silent:true, symbol:'none',
    data:[[0,0],[1,0]], lineStyle:{color:RED,width:1.8,type:[8,3.5]}});
  series.push({type:'line', xAxisIndex:i, yAxisIndex:yl, z:4, silent:true, symbol:'none',
    data:[[0,overallMedian[i]],[1,overallMedian[i]]], lineStyle:{color:'#000',width:1.8,type:[2,2.6]}});
  series.push({type:'line', xAxisIndex:i, yAxisIndex:yl, z:5, silent:true, symbol:'none',
    data:medAll[i].map((m,k)=>[binCenters[k],m]), lineStyle:{color:BLUE,width:2.6}});
  series.push({type:'custom', xAxisIndex:i, yAxisIndex:yl, z:6, silent:true,
    data:medAll[i].map((m,k)=>[binCenters[k],loAll[i][k],hiAll[i][k]]),
    encode:{x:0,y:[1,2]},
    renderItem:(p,api)=>{const a=api.coord([api.value(0),api.value(1)]);const b=api.coord([api.value(0),api.value(2)]);
      const st={stroke:BLUE,lineWidth:2.2};const c=3.5;
      return {type:'group',children:[
        {type:'line',shape:{x1:a[0],y1:a[1],x2:b[0],y2:b[1]},style:st},
        {type:'line',shape:{x1:a[0]-c,y1:a[1],x2:a[0]+c,y2:a[1]},style:st},
        {type:'line',shape:{x1:b[0]-c,y1:b[1],x2:b[0]+c,y2:b[1]},style:st}]};}});
  series.push({type:'custom', xAxisIndex:i, yAxisIndex:yl, z:10, silent:true, data:[[0.5,0]],
    renderItem:(p)=>{const cs=p.coordSys;return {type:'rect',shape:{x:cs.x,y:cs.y,width:cs.width,height:cs.height},style:{fill:null,stroke:'#000',lineWidth:1.3}};}});

  const txt=(x,y,text,font,fill,align)=>({type:'text',x:x,y:y,z:100,silent:true,
    style:{text:text,font:font,fill:fill,align:align,verticalAlign:'middle',textAlign:align,textVerticalAlign:'middle'}});
  graphics.push(txt(L+7,T+16.5,siteNames[i],'bold 15.5px '+FONT,'#000','left'));
  graphics.push(txt(L+7,T+53,panelLetters[i],'bold 17.5px '+FONT,'#000','left'));
  graphics.push(txt(L+7,B-39,pctLow[i]+'% of particles','bold 16.2px '+FONT,ORANGE,'left'));
  graphics.push(txt(L+7,B-20.5,'(\u03c7 < 0.6)','bold 16.2px '+FONT,ORANGE,'left'));
  graphics.push(txt(R-8,B-39,pctHigh[i]+'% of particles','bold 16.2px '+FONT,GREEN,'right'));
  graphics.push(txt(R-8,B-20.5,'(\u03c7 \u2265 0.6)','bold 16.2px '+FONT,GREEN,'right'));
}

for(let r=0;r<3;r++){
  const cy=rowTop[r]+rowH[r]/2;
  graphics.push({type:'text',x:32,y:cy,rotation:Math.PI/2,z:100,silent:true,
    style:{text:'ML improvement over\nchemistry (\u0394\u03ba)',font:'bold 18px '+FONT,fill:'#000',lineHeight:21,
      align:'center',verticalAlign:'middle',textAlign:'center',textVerticalAlign:'middle'}});
  if(r<2){
    graphics.push({type:'text',x:1313,y:cy,rotation:Math.PI/2,z:100,silent:true,
      style:{text:'Frequency per \u03c7 bin (%)',font:'bold 18px '+FONT,fill:'#000',
        align:'center',verticalAlign:'middle',textAlign:'center',textVerticalAlign:'middle'}});
  }
}
for(let c=0;c<2;c++){
  graphics.push({type:'text',x:colLeft[c]+PW/2,y:1053,z:100,silent:true,
    style:{text:'{a|Mixing state (}{b|\u03c7}{c|proxy}{a|)}',align:'center',verticalAlign:'middle',textAlign:'center',textVerticalAlign:'middle',
      rich:{a:{font:'bold 18px '+FONT,fill:'#000',lineHeight:24,verticalAlign:'middle'},
            b:{font:'italic 18px '+FONT,fill:'#000',lineHeight:24,verticalAlign:'middle'},
            c:{font:'italic 12.5px '+FONT,fill:'#000',lineHeight:13,verticalAlign:'bottom'}}}});
}

const legendLabels=['Points (\u0394\u03ba vs \u03c7)','Binned median','\u0394\u03ba = 0 (no change)','Overall median \u0394\u03ba','\u03c7 distribution (freq)','Externally mixed','Intermediate mixed','Near-internal mixed'];
graphics.push({type:'rect',z:90,silent:true,shape:{x:969.5,y:753,width:241,height:214,r:3},style:{fill:'#fff',stroke:'#cccccc',lineWidth:1}});
legendLabels.forEach((lab,k)=>{
  const y=767.5+k*26.2, x0=976, x1=1013, xc=994.5;
  if(k===0) graphics.push({type:'circle',z:95,shape:{cx:xc,cy:y,r:3},style:{fill:BLUE}});
  if(k===1){graphics.push({type:'line',z:95,shape:{x1:x0,y1:y,x2:x1,y2:y},style:{stroke:BLUE,lineWidth:3.5}});
            graphics.push({type:'circle',z:96,shape:{cx:xc,cy:y,r:4.5},style:{fill:BLUE}});}
  if(k===2) graphics.push({type:'line',z:95,shape:{x1:x0,y1:y,x2:x1,y2:y},style:{stroke:RED,lineWidth:3,lineDash:[13,7]}});
  if(k===3) graphics.push({type:'line',z:95,shape:{x1:x0,y1:y,x2:x1,y2:y},style:{stroke:'#000',lineWidth:3,lineDash:[3,8]}});
  if(k>=4){const fill=k===4?'#dcdcdc':LEG_COLORS[k-5];
    graphics.push({type:'rect',z:95,shape:{x:x0,y:y-5.5,width:x1-x0,height:11},style:{fill:fill}});}
  graphics.push({type:'text',x:1027,y:y,z:95,silent:true,style:{text:lab,font:'17px '+FONT,fill:'#1a1a1a',align:'left',verticalAlign:'middle',textAlign:'left',textVerticalAlign:'middle'}});
});
graphics.push({type:'text',x:1090,y:991,z:95,silent:true,style:{text:'Legend',font:'bold 17px '+FONT,fill:'#000',align:'center',verticalAlign:'middle',textAlign:'center',textVerticalAlign:'middle'}});

const chart=echarts.init(document.getElementById('c'),null,{renderer:'canvas'});
chart.setOption({animation:false, backgroundColor:'#fff', grid:grids, xAxis:xAxes, yAxis:yAxes, series:series, graphic:{elements:graphics}});
</script></body></html>
